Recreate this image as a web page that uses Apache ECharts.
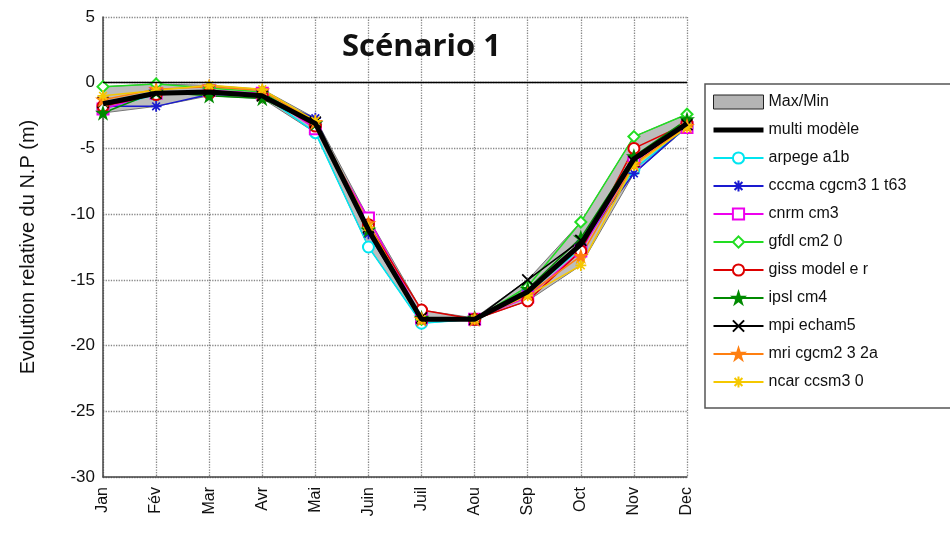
<!DOCTYPE html>
<html lang="fr">
<head>
    <meta charset="UTF-8">
    <script src="https://cdn.jsdelivr.net/npm/echarts@6/dist/echarts.min.js"></script>
    <title>Scénario 1</title>
    <style>
        html, body { margin: 0; padding: 0; background: #fff; }
        #ec { width: 950px; height: 534px; }
    </style>
</head>
<body>
<div id="ec"></div>
<script>
    // mois
    var months = ['Jan', 'Fév', 'Mar', 'Avr', 'Mai', 'Juin', 'Juil', 'Aou', 'Sep', 'Oct', 'Nov', 'Dec'];
    var yTicks = [-30, -25, -20, -15, -10, -5, 0, 5];

    // valeurs (m)
    var arpege = [-2.0, -0.9, -0.7, -0.9, -3.8, -12.5, -18.3, -18.0, -16.0, -12.6, -6.6, -3.4];
    var cccma  = [-1.8, -1.8, -0.9, -1.0, -2.7, -11.5, -18.0, -18.0, -15.8, -12.3, -6.9, -3.3];
    var cnrm   = [-2.0, -0.8, -0.6, -0.8, -3.5, -10.3, -17.9, -18.0, -16.3, -12.8, -6.0, -3.4];
    var gfdl   = [-0.3, -0.1, -0.4, -0.7, -3.2, -11.0, -18.0, -18.0, -15.5, -10.6, -4.1, -2.4];
    var giss   = [-1.8, -0.9, -0.8, -1.0, -3.3, -10.8, -17.3, -18.0, -16.6, -12.8, -5.0, -3.1];
    var ipsl   = [-2.3, -0.7, -1.0, -1.2, -3.1, -11.2, -17.9, -17.9, -15.7, -11.8, -5.6, -2.8];
    var mpi    = [-1.5, -0.8, -0.6, -1.0, -3.0, -11.0, -17.9, -18.0, -15.0, -12.0, -6.0, -3.2];
    var mri    = [-1.3, -0.5, -0.3, -0.6, -3.0, -10.7, -18.0, -18.0, -16.1, -13.2, -6.2, -3.3];
    var ncar   = [-1.0, -0.6, -0.2, -0.5, -2.9, -11.0, -18.0, -18.0, -16.2, -13.9, -6.3, -3.4];
    var multi  = [-1.6, -0.8, -0.7, -1.0, -3.1, -11.2, -18.0, -18.0, -15.9, -12.3, -5.8, -3.1];

    var star = 'path://M5,0L6.2,3.6L10,3.6L6.9,5.9L8.1,9.5L5,7.3L1.9,9.5L3.1,5.9L0,3.6L3.8,3.6Z';
    var asterisk = 'path://M5,0L5,10M0,5L10,5M1.5,1.5L8.5,8.5M8.5,1.5L1.5,8.5';
    var cross = 'path://M0,0L10,10M10,0L0,10';

    var models = [
        {name: 'arpege a1b', data: arpege, color: '#00e5f0', symbol: 'emptyCircle'},
        {name: 'cccma cgcm3 1 t63', data: cccma, color: '#1a1ad0', symbol: asterisk},
        {name: 'cnrm cm3', data: cnrm, color: '#ee00ee', symbol: 'emptyRect'},
        {name: 'gfdl cm2 0', data: gfdl, color: '#22dd22', symbol: 'emptyDiamond'},
        {name: 'giss model e r', data: giss, color: '#dd0000', symbol: 'emptyCircle'},
        {name: 'ipsl cm4', data: ipsl, color: '#008a00', symbol: star},
        {name: 'mpi echam5', data: mpi, color: '#000000', symbol: cross},
        {name: 'mri cgcm2 3 2a', data: mri, color: '#ff7f10', symbol: star},
        {name: 'ncar ccsm3 0', data: ncar, color: '#f5c800', symbol: asterisk}
    ];

    // enveloppe max / min des modèles
    var bandMin = months.map(function (m, i) {
        return Math.min.apply(null, models.map(function (s) { return s.data[i]; }));
    });
    var bandMax = months.map(function (m, i) {
        return Math.max.apply(null, models.map(function (s) { return s.data[i]; }));
    });
    var bandDiff = bandMax.map(function (v, i) { return +(v - bandMin[i]).toFixed(2); });

    var font = 'Liberation Sans, Arial, sans-serif';
    var myChart = echarts.init(document.getElementById('ec'));

    var series = [
        {
            name: 'min',
            type: 'line',
            data: bandMin,
            stack: 'band',
            stackStrategy: 'all',
            symbol: 'none',
            lineStyle: {color: '#777', width: 1},
            silent: true,
            z: 1,
            markLine: {
                silent: true,
                symbol: 'none',
                label: {show: false},
                lineStyle: {color: '#000', type: 'solid', width: 1.3},
                data: [{yAxis: 0}]
            }
        },
        {
            name: 'Max/Min',
            type: 'line',
            data: bandDiff,
            stack: 'band',
            stackStrategy: 'all',
            symbol: 'none',
            lineStyle: {color: '#777', width: 1},
            areaStyle: {color: '#bdbdbd', opacity: 1},
            silent: true,
            z: 1
        }
    ];

    models.forEach(function (m) {
        series.push({
            name: m.name,
            type: 'line',
            data: m.data,
            symbol: m.symbol,
            symbolSize: 11,
            lineStyle: {color: m.color, width: 1.5},
            itemStyle: {color: m.color, borderColor: m.color, borderWidth: 1.7},
            z: 2
        });
    });

    series.push({
        name: 'multi modèle',
        type: 'line',
        data: multi,
        symbol: 'none',
        lineStyle: {color: '#000', width: 5},
        itemStyle: {color: 'rgba(0,0,0,0)', borderWidth: 0},
        z: 3
    });

    var legendData = [
        {name: 'Max/Min', icon: 'rect', itemStyle: {color: '#b4b4b4', borderColor: '#222', borderWidth: 1}},
        {name: 'multi modèle', lineStyle: {width: 5, color: '#000'}, itemStyle: {color: 'rgba(0,0,0,0)', borderWidth: 0}}
    ].concat(models.map(function (m) { return {name: m.name}; }));

    myChart.setOption({
        animation: false,
        textStyle: {fontFamily: font},
        title: {
            text: 'Scénario 1',
            left: 337,
            top: 27,
            textStyle: {fontFamily: 'Open Sans, sans-serif', fontWeight: 'bold', fontSize: 31, color: '#111'}
        },
        legend: {
            orient: 'vertical',
            left: 705,
            top: 84,
            data: legendData,
            itemWidth: 50,
            itemHeight: 14,
            itemGap: 12,
            padding: [10, 60, 18, 6],
            borderColor: '#555',
            borderWidth: 1.5,
            textStyle: {fontFamily: font, fontSize: 16, color: '#111'}
        },
        grid: {left: 103, right: 263, top: 17, bottom: 57},
        xAxis: {
            type: 'category',
            data: months,
            boundaryGap: false,
            axisLine: {onZero: false, lineStyle: {color: '#444', width: 1.5}},
            axisTick: {show: false},
            axisLabel: {rotate: 90, fontSize: 16, color: '#111', margin: 10, fontFamily: font},
            splitLine: {show: true, lineStyle: {color: '#888', type: 'dotted', width: 1.3}}
        },
        yAxis: {
            type: 'value',
            min: yTicks[0],
            max: yTicks[yTicks.length - 1],
            interval: 5,
            name: 'Evolution relative du N.P (m)',
            nameLocation: 'middle',
            nameGap: 65,
            nameTextStyle: {fontSize: 20, color: '#111', fontFamily: font},
            axisLine: {show: true, lineStyle: {color: '#444', width: 1.5}},
            axisTick: {show: false},
            axisLabel: {fontSize: 17, color: '#111', margin: 8, fontFamily: font},
            splitLine: {show: true, lineStyle: {color: '#888', type: 'dotted', width: 1.3}}
        },
        series: series
    });
</script>
</body>
</html>
